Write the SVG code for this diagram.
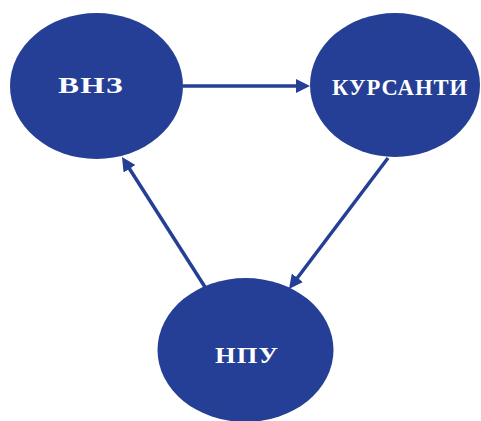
<svg xmlns="http://www.w3.org/2000/svg" width="481" height="421" viewBox="0 0 481 421">
<style>
.node { fill: #243F95; }
.label { fill: #FFFFFF; font-family: "Liberation Serif", "Times New Roman", serif; font-weight: bold; font-size: 24px; letter-spacing: 1px; }
.conn { stroke: #243F95; stroke-width: 3.5; fill: none; marker-end: url(#arrow); }
</style>
<defs>
<marker id="arrow" markerUnits="userSpaceOnUse" markerWidth="14" markerHeight="14" viewBox="0 0 14 14" refX="3" refY="7" orient="auto">
<path d="M0,0 L14,7 L0,14 z" fill="#243F95"/>
</marker>
</defs>
<rect width="481" height="421" fill="#FFFFFF"/>
<g id="node-vnz">
<ellipse class="node" cx="96.5" cy="86" rx="86.5" ry="73"/>
<text class="label" x="58" y="93" textLength="66" lengthAdjust="spacingAndGlyphs">ВНЗ</text>
</g>
<g id="node-kursanty">
<ellipse class="node" cx="395" cy="85" rx="85" ry="72"/>
<text class="label" x="332" y="95" textLength="136" lengthAdjust="spacingAndGlyphs">КУРСАНТИ</text>
</g>
<g id="node-npu">
<ellipse class="node" cx="245.5" cy="350" rx="88" ry="72"/>
<text class="label" x="215" y="363" textLength="64" lengthAdjust="spacingAndGlyphs">НПУ</text>
</g>
<g id="connectors">
<path class="conn" d="M183,86 L299,86"/>
<path class="conn" d="M388,158 L295.6,280.2"/>
<path class="conn" d="M205,287 L127.9,166.3"/>
</g>
</svg>
